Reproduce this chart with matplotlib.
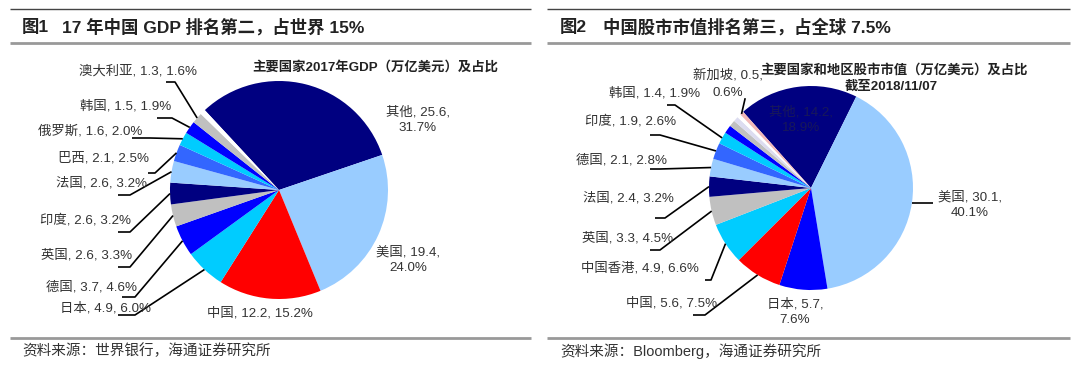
import matplotlib
matplotlib.use('Agg')
import matplotlib.pyplot as plt
import numpy as np

plt.rcParams['font.family'] = ['Liberation Sans', 'Noto Sans CJK SC', 'DejaVu Sans']

# ---------------- data ----------------
# Figure 1: GDP 2017 (trillion USD) and share
gdp_names = ['其他', '美国', '中国', '日本', '德国', '英国', '印度', '法国', '巴西', '俄罗斯', '韩国', '澳大利亚']
gdp_values = [25.6, 19.4, 12.2, 4.9, 3.7, 2.6, 2.6, 2.6, 2.1, 1.6, 1.5, 1.3]
gdp_shares = [31.7, 24.0, 15.2, 6.0, 4.6, 3.3, 3.2, 3.2, 2.5, 2.0, 1.9, 1.6]
gdp_unlabeled_shares = [0.8]

# Figure 2: stock market cap (trillion USD) and share, as of 2018/11/07
mkt_names = ['其他', '美国', '日本', '中国', '中国香港', '英国', '法国', '德国', '印度', '韩国']
mkt_values = [14.2, 30.1, 5.7, 5.6, 4.9, 3.3, 2.4, 2.1, 1.9, 1.4]
mkt_shares = [18.9, 40.1, 7.6, 7.5, 6.6, 4.5, 3.2, 2.8, 2.6, 1.9]
mkt_unlabeled_shares = [1.3, 1.0, 0.8, 0.6]
mkt_last_name = '新加坡'
mkt_last_value = 0.5
mkt_last_share = 0.6

titles = ['17 年中国 GDP 排名第二，占世界 15%', '中国股市市值排名第三，占全球 7.5%']
fig_nums = ['图1', '图2']
subtitles = ['主要国家2017年GDP（万亿美元）及占比', '主要国家和地区股市市值（万亿美元）及占比']
subtitle2_date = '截至2018/11/07'
sources = ['资料来源：世界银行，海通证券研究所', '资料来源：Bloomberg，海通证券研究所']

# ---------------- style ----------------
NAVY = '#000080'; LBLUE = '#99CCFF'; RED = '#FF0000'; CYAN = '#00CCFF'
BLUE = '#0000FF'; GRAY = '#C0C0C0'; RBLUE = '#3366FF'; WHITE = '#FFFFFF'
PALE = '#DCDCF0'; PINK = '#F2B8B8'
gdp_colors = [NAVY, LBLUE, RED, CYAN, BLUE, GRAY, NAVY, LBLUE, RBLUE, CYAN, BLUE, GRAY] + [WHITE]
mkt_colors = [NAVY, LBLUE, BLUE, RED, CYAN, GRAY, NAVY, LBLUE, RBLUE, CYAN] + [BLUE, GRAY, PALE, WHITE] + [PINK]

W, H = 1080, 368
TXT = '#333333'
LFS = 9.6
LSP = 1.45

fig = plt.figure(figsize=(W / 100, H / 100), dpi=100)
ax = fig.add_axes([0, 0, 1, 1])


def Y(y):
    return H - y


def label(name, val, share, brk=None):
    if brk == 1:
        return f'{name}, {val},\n{share}%'
    return f'{name}, {val}, {share}%'


# ---------------- header / footer ----------------
for (x0, x1) in [(10, 531), (547, 1070)]:
    ax.plot([x0, x1], [Y(9), Y(9)], color='#444444', lw=1.0, solid_capstyle='butt')
    ax.plot([x0, x1], [Y(43), Y(43)], color='#999999', lw=2.0, solid_capstyle='butt')
    ax.plot([x0, x1], [Y(338), Y(338)], color='#999999', lw=2.0, solid_capstyle='butt')

ax.text(22, Y(27), fig_nums[0], fontsize=12.5, fontweight='bold', va='center', ha='left', color='#222222')
ax.text(62, Y(27), titles[0], fontsize=12.5, fontweight='bold', va='center', ha='left', color='#222222')
ax.text(560, Y(27), fig_nums[1], fontsize=12.5, fontweight='bold', va='center', ha='left', color='#222222')
ax.text(603, Y(27), titles[1], fontsize=12.5, fontweight='bold', va='center', ha='left', color='#222222')
ax.text(22, Y(351), sources[0], fontsize=10.5, va='center', ha='left', color=TXT)
ax.text(560, Y(351), sources[1], fontsize=10.5, va='center', ha='left', color=TXT)

# ---------------- pie 1 ----------------
c1 = (279, Y(190)); r1 = 109
w1, _ = ax.pie(gdp_shares + gdp_unlabeled_shares, colors=gdp_colors, startangle=132.9,
               counterclock=False, center=c1, radius=r1, wedgeprops=dict(linewidth=0))

# label layout: text centre (x, y), line break flag, leader start, elbow x
gdp_layout = {
    '其他': ((418, 120), 1, None),
    '美国': ((408, 260), 1, None),
    '中国': ((260, 313), 0, None),
    '日本': ((105, 308), 0, ((118, 315), 135)),
    '德国': ((91, 287), 0, ((122, 297), 135)),
    '英国': ((87, 255), 0, ((118, 267), 130)),
    '印度': ((85, 220), 0, ((118, 232), 130)),
    '法国': ((101, 183), 0, ((118, 195), 130)),
    '巴西': ((104, 158), 0, ((148, 173), 155)),
    '俄罗斯': ((90, 131), 0, ((132, 138), 150)),
    '韩国': ((126, 106), 0, ((157, 118), 172)),
    '澳大利亚': ((138, 71), 0, ((166, 82), 175)),
}
for i, name in enumerate(gdp_names):
    (tx, ty), brk, lead = gdp_layout[name]
    ax.text(tx, Y(ty), label(name, gdp_values[i], gdp_shares[i], brk), fontsize=LFS,
            ha='center', va='center', color=TXT, linespacing=LSP, multialignment='center')
    if lead is not None:
        w = w1[i]
        a = np.deg2rad((w.theta1 + w.theta2) / 2)
        px, py = c1[0] + r1 * np.cos(a), c1[1] + r1 * np.sin(a)
        (sx, sy), ex = lead
        ax.plot([sx, ex, px], [Y(sy), Y(sy), py], color='black', lw=1.2, solid_capstyle='butt')

ax.text(375, Y(67), subtitles[0], fontsize=9.6, fontweight='bold', ha='center', va='center', color='#222222')

# ---------------- pie 2 ----------------
c2 = (811, Y(188)); r2 = 102
w2, _ = ax.pie(mkt_shares + mkt_unlabeled_shares + [mkt_last_share], colors=mkt_colors,
               startangle=131.7, counterclock=False, center=c2, radius=r2,
               wedgeprops=dict(linewidth=0))

mkt_layout = {
    '其他': ((801, 120), 1, None),
    '美国': ((970, 205), 1, 'right'),
    '日本': ((795, 312), 1, None),
    '中国': ((672, 303), 0, ((693, 315), 705)),
    '中国香港': ((640, 268), 0, ((705, 280), 711)),
    '英国': ((628, 238), 0, ((650, 250), 660)),
    '法国': ((628, 198), 0, ((655, 218), 665)),
    '德国': ((622, 160), 0, ((650, 169), 660)),
    '印度': ((631, 121), 0, ((650, 135), 660)),
    '韩国': ((655, 93), 0, ((667, 105), 675)),
}
for i, name in enumerate(mkt_names):
    (tx, ty), brk, lead = mkt_layout[name]
    col = '#18185A' if name == '其他' else TXT
    ax.text(tx, Y(ty), label(name, mkt_values[i], mkt_shares[i], brk), fontsize=LFS,
            ha='center', va='center', color=col, linespacing=LSP, multialignment='center')
    w = w2[i]
    a = np.deg2rad((w.theta1 + w.theta2) / 2)
    px, py = c2[0] + r2 * np.cos(a), c2[1] + r2 * np.sin(a)
    if lead == 'right':
        ax.plot([px, 933], [py, py], color='black', lw=1.2, solid_capstyle='butt')
    elif lead is not None:
        (sx, sy), ex = lead
        ax.plot([sx, ex, px], [Y(sy), Y(sy), py], color='black', lw=1.2, solid_capstyle='butt')

# Singapore label (last wedge), two separate lines
sg_lines = label(mkt_last_name, mkt_last_value, mkt_last_share, 1).split('\n')
ax.text(728, Y(75), sg_lines[0], fontsize=LFS, ha='center', va='center', color=TXT)
ax.text(728, Y(93), sg_lines[1], fontsize=LFS, ha='center', va='center', color=TXT)
w = w2[-1]
a = np.deg2rad((w.theta1 + w.theta2) / 2)
px, py = c2[0] + r2 * np.cos(a), c2[1] + r2 * np.sin(a)
ax.plot([745, px], [Y(99), py], color='black', lw=1.2)

ax.text(894, Y(70), subtitles[1], fontsize=9.6, fontweight='bold', ha='center', va='center', color='#222222')
ax.text(891, Y(87), subtitle2_date, fontsize=9.6, fontweight='bold', ha='center', va='center', color='#222222')

ax.set_xlim(0, W)
ax.set_ylim(0, H)
ax.set_aspect('equal')
ax.axis('off')

fig.savefig('out.png', dpi=100, facecolor='white')
